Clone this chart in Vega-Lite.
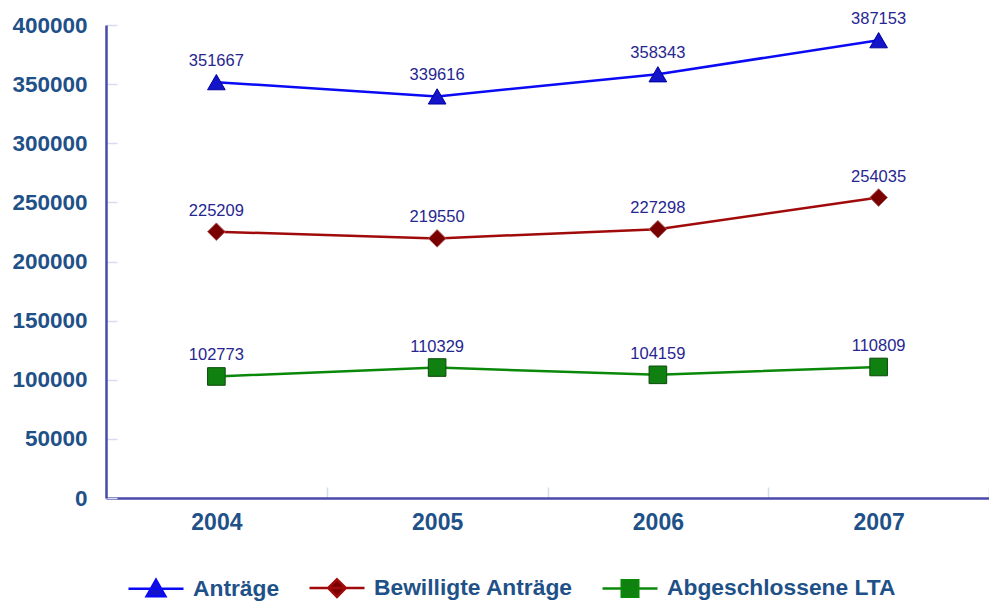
{
  "$schema": "https://vega.github.io/schema/vega-lite/v6.json",
  "width": 883,
  "height": 473,
  "autosize": {"type": "none"},
  "padding": {"left": 106, "top": 25, "right": 0, "bottom": 104},
  "background": "white",
  "config": {
    "view": {"stroke": null},
    "font": "Liberation Sans"
  },
  "data": {
    "values": [
      {"year": "2004", "series": "Anträge", "value": 351667},
      {"year": "2005", "series": "Anträge", "value": 339616},
      {"year": "2006", "series": "Anträge", "value": 358343},
      {"year": "2007", "series": "Anträge", "value": 387153},
      {"year": "2004", "series": "Bewilligte Anträge", "value": 225209},
      {"year": "2005", "series": "Bewilligte Anträge", "value": 219550},
      {"year": "2006", "series": "Bewilligte Anträge", "value": 227298},
      {"year": "2007", "series": "Bewilligte Anträge", "value": 254035},
      {"year": "2004", "series": "Abgeschlossene LTA", "value": 102773},
      {"year": "2005", "series": "Abgeschlossene LTA", "value": 110329},
      {"year": "2006", "series": "Abgeschlossene LTA", "value": 104159},
      {"year": "2007", "series": "Abgeschlossene LTA", "value": 110809}
    ]
  },
  "encoding": {
    "x": {
      "field": "year", "type": "ordinal",
      "scale": {"paddingInner": 0, "paddingOuter": 0},
      "axis": {
        "title": null, "labelAngle": 0,
        "domainColor": "#4a48a8", "domainWidth": 2.5,
        "tickBand": "extent", "tickColor": "#d4dcef", "tickSize": -11, "tickWidth": 1.5,
        "labelFontSize": 23, "labelFontWeight": "bold", "labelColor": "#1f5189",
        "labelPadding": 24
      }
    },
    "y": {
      "field": "value", "type": "quantitative",
      "scale": {"domain": [0, 400000]},
      "axis": {
        "title": null, "values": [0, 50000, 100000, 150000, 200000, 250000, 300000, 350000, 400000],
        "format": "d", "grid": false,
        "domainColor": "#4a48a8", "domainWidth": 2.5,
        "tickColor": "#d4dcef", "tickSize": -11, "tickWidth": 1.5,
        "labelFontSize": 22.5, "labelFontWeight": "bold", "labelColor": "#1f5189",
        "labelPadding": 30
      }
    }
  },
  "layer": [
    {
      "mark": {"type": "line", "strokeWidth": 2.5},
      "encoding": {
        "color": {
          "field": "series", "type": "nominal",
          "scale": {"domain": ["Anträge", "Bewilligte Anträge", "Abgeschlossene LTA"], "range": ["#0a0af5", "#a00a0a", "#0a880a"]},
          "legend": {
            "orient": "none", "legendX": 21, "legendY": 534,
            "direction": "horizontal", "title": null,
            "symbolSize": 3025, "symbolStrokeWidth": 2.5,
            "labelFontSize": 22.8, "labelFontWeight": "bold", "labelColor": "#1f5189",
            "labelFont": "Liberation Sans", "labelLimit": 400,
            "labelOffset": 8, "columnPadding": 24,
            "encode": {
              "symbols": {
                "update": {
                  "shape": {"signal": "datum.value === 'Anträge' ? 'M-1,0L1,0M0,-0.32L0.34,0.28L-0.34,0.28Z' : datum.value === 'Bewilligte Anträge' ? 'M-1,0L1,0M0,-0.32L0.32,0L0,0.32L-0.32,0Z' : 'M-1,0L1,0M-0.3,-0.3L0.3,-0.3L0.3,0.3L-0.3,0.3Z'"},
                  "fill": {"signal": "datum.value === 'Anträge' ? '#1414c8' : datum.value === 'Bewilligte Anträge' ? '#7a0000' : '#108010'"},
                  "stroke": {"signal": "datum.value === 'Anträge' ? '#0a0af5' : datum.value === 'Bewilligte Anträge' ? '#a00a0a' : '#0a880a'"},
                  "strokeWidth": {"value": 2.5},
                  "opacity": {"value": 1}
                }
              }
            }
          }
        }
      }
    },
    {
      "transform": [{"filter": "datum.series === 'Anträge'"}],
      "mark": {"type": "point", "shape": "triangle-up", "filled": true, "opacity": 1, "fill": "#1414c8", "stroke": "#0000a0", "strokeWidth": 1, "size": 310}
    },
    {
      "transform": [{"filter": "datum.series === 'Bewilligte Anträge'"}],
      "mark": {"type": "point", "shape": "diamond", "filled": true, "opacity": 1, "fill": "#7a0000", "stroke": "#b06060", "strokeWidth": 1, "size": 310}
    },
    {
      "transform": [{"filter": "datum.series === 'Abgeschlossene LTA'"}],
      "mark": {"type": "point", "shape": "square", "filled": true, "opacity": 1, "fill": "#108010", "stroke": "#0a4a0a", "strokeWidth": 1, "size": 310}
    },
    {
      "mark": {"type": "text", "dy": -21, "fontSize": 16.5, "color": "#262690", "font": "Liberation Sans"},
      "encoding": {
        "text": {"field": "value", "type": "quantitative", "format": "d"}
      }
    }
  ]
}
